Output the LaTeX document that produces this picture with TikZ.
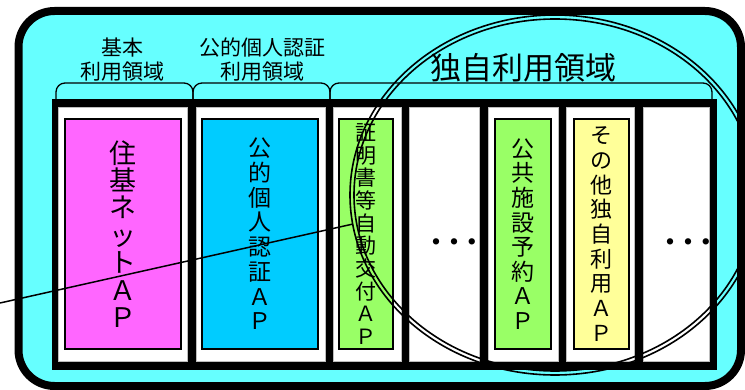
\documentclass[tikz,border=0pt]{standalone}
\usepackage{fontspec}
\setmainfont{Noto Sans CJK JP}
\usepackage{xcolor}
\usetikzlibrary{calc}
\definecolor{sky}{HTML}{66FFFF}
\definecolor{juki}{HTML}{FF66FF}
\definecolor{jpki}{HTML}{00CCFF}
\definecolor{lime}{HTML}{99FF66}
\definecolor{cream}{HTML}{FFFF99}
\definecolor{edge}{HTML}{BDBDBD}
\tikzset{
  outer/.style={draw=black, fill=sky, line width=8pt, rounded corners=36pt},
  slot/.style={draw=edge, fill=white, line width=0.8pt},
  ap/.style={draw=black, line width=1.3pt, inner sep=0pt, align=center, minimum height=230pt},
  brace/.style={draw=black, line width=1.3pt, rounded corners=9pt},
  ring/.style={draw=black, line width=1.6pt},
  lab/.style={align=center, font=\fontsize{21}{24}\selectfont},
  more/.style={font=\fontsize{7}{7}\selectfont, inner sep=0pt},
}

\begin{document}
\begin{tikzpicture}[x=1pt, y=-1pt]
  \useasboundingbox (0,0) rectangle (745,390);
  % outer area
  \draw[outer] (18.5,11) rectangle (741,386);
  % rack of slots
  \fill[black] (52,99) rectangle (717,370);
  \filldraw[slot] (58,107) rectangle (187,361);
  \filldraw[slot] (196,107) rectangle (325,361);
  \filldraw[slot] (333,107) rectangle (401,361);
  \filldraw[slot] (409,107) rectangle (479,361);
  \filldraw[slot] (488,107) rectangle (558,361);
  \filldraw[slot] (566,107) rectangle (634,361);
  \filldraw[slot] (643,107) rectangle (709,361);
  % braces and area labels
  \draw[brace] (56,99) -- (56,83) -- (193,83) -- (193,99);
  \draw[brace] (193,99) -- (193,83) -- (330,83) -- (330,99);
  \draw[brace] (330,99) -- (330,83) -- (712,83) -- (712,99);
  \node[lab] (basic) at (122,60) {基本\\利用領域};
  \node[lab] (public) at (262,60) {公的個人認証\\利用領域};
  \node[font=\fontsize{31}{31}\selectfont] (own) at (523,68) {独自利用領域};
  % applications
  \node[ap, fill=juki, minimum width=116pt, font=\fontsize{27}{27.4}\selectfont] (jukiap) at (123,234)
    {住\\基\\ネ\\ッ\\ト\\Ａ\\Ｐ};
  \node[ap, fill=jpki, minimum width=116pt, font=\fontsize{23}{24.7}\selectfont] (jpkiap) at (260,234)
    {公\\的\\個\\人\\認\\証\\Ａ\\Ｐ};
  \node[ap, fill=lime, minimum width=54pt, font=\fontsize{21}{22.7}\selectfont] (certap) at (366,234)
    {証\\明\\書\\等\\自\\動\\交\\付\\Ａ\\Ｐ};
  \node[ap, fill=lime, minimum width=56pt, font=\fontsize{23}{24.6}\selectfont] (rsvap) at (523,234)
    {公\\共\\施\\設\\予\\約\\Ａ\\Ｐ};
  \node[ap, fill=cream, minimum width=55pt, font=\fontsize{22}{24.7}\selectfont] (otherap) at (601.5,234)
    {そ\\の\\他\\独\\自\\利\\用\\Ａ\\Ｐ};
  \node[more] (more1) at (454,242) {●\hspace{11pt}●\hspace{11pt}●};
  \node[more] (more2) at (688,242) {●\hspace{11pt}●\hspace{11pt}●};
  % own-use zone and pointer
  \coordinate (zone) at (555,195);
  \draw[ring] (zone) ellipse [x radius=205, y radius=180];
  \draw[ring] (zone) ellipse [x radius=201, y radius=176];
  \coordinate (tip) at (0,303);
  \coordinate (zonew) at ($(zone)+(170.7:205 and 180)$);
  \draw[black, line width=1.5pt] (tip) -- (zonew);
\end{tikzpicture}
\end{document}
